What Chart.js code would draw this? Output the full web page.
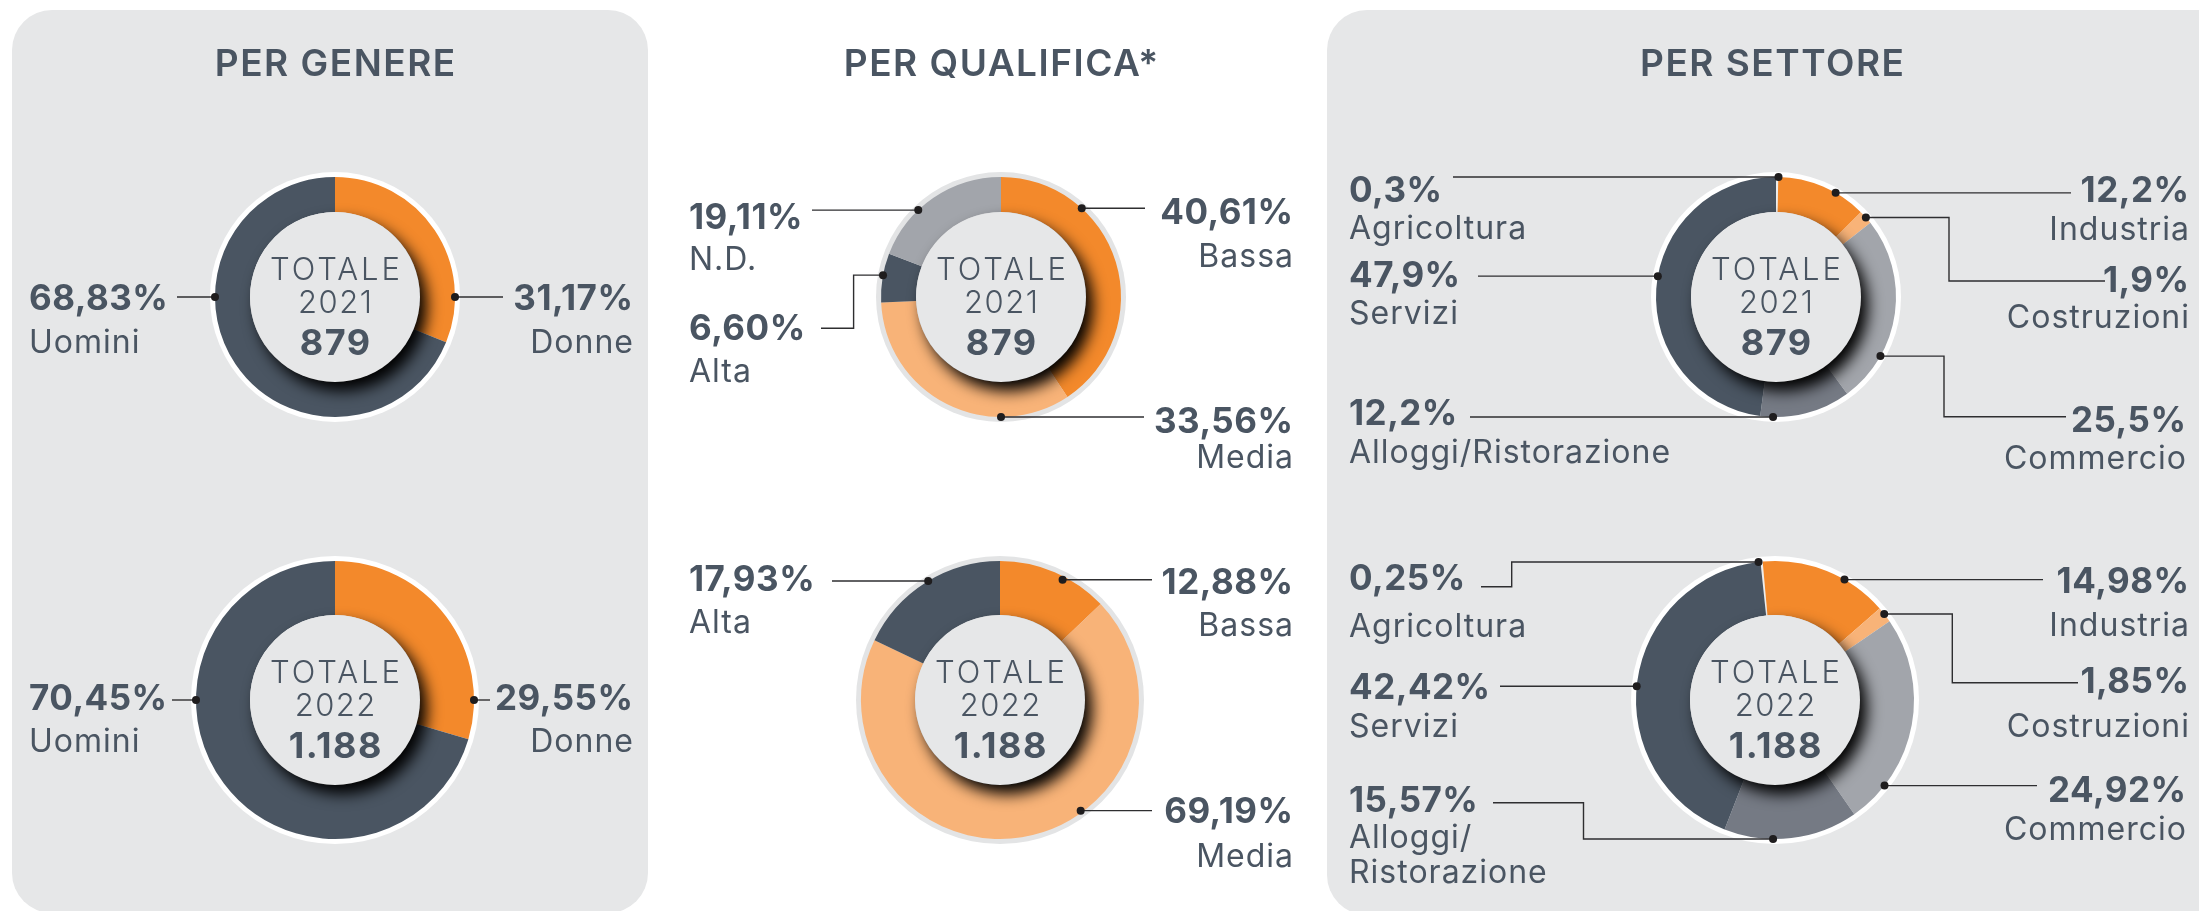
<!DOCTYPE html>
<html lang="it">
<head>
<meta charset="utf-8">
<title>Assunzioni per genere, qualifica e settore</title>
<script src="https://cdn.jsdelivr.net/npm/chart.js@4.4.1/dist/chart.umd.min.js"></script>
<style>
  html, body { margin: 0; padding: 0; background: #ffffff; }
  body { width: 2199px; height: 911px; position: relative; overflow: hidden; }
  .panel { position: absolute; background: #e6e7e8; border-radius: 40px; }
  canvas.layer { position: absolute; left: 0; top: 0; }
</style>
</head>
<body>
<div class="panel" style="left:12px; top:10px; width:636px; height:903px;"></div>
<div class="panel" style="left:1327px; top:10px; width:920px; height:905px;"></div>

<script>
// ---- data ----
const years = ['2021', '2022'];
const totals = [879, 1188];

const genereLabels = ['Donne', 'Uomini'];
const genere2021 = [31.17, 68.83];
const genere2022 = [29.55, 70.45];

const qualificaLabels2021 = ['Bassa', 'Media', 'Alta', 'N.D.'];
const qualifica2021 = [40.61, 33.56, 6.60, 19.11];
const qualificaLabels2022 = ['Bassa', 'Media', 'Alta'];
const qualifica2022 = [12.88, 69.19, 17.93];

const settoreLabels = ['Agricoltura', 'Industria', 'Costruzioni', 'Commercio', 'Alloggi/Ristorazione', 'Servizi'];
const settore2021 = [0.3, 12.2, 1.9, 25.5, 12.2, 47.9];
const settore2022 = [0.25, 14.98, 1.85, 24.92, 15.57, 42.42];

const panelTitles = ['PER GENERE', 'PER QUALIFICA*', 'PER SETTORE'];

// ---- styling ----
const W = 2199, H = 911;
const TEXT = '#4a5562';
const FONT = 'Inter, "Noto Sans", sans-serif';
const genereColors = ['#f3892b', '#4a5562'];
const qualificaColors = ['#f3892b', '#f8b378', '#4a5562', '#a2a5ab'];
const settoreColors = ['#eceded', '#f3892b', '#f8b378', '#a2a5ab', '#757a84', '#4a5562'];

const fmtPct = (v, d) => v.toFixed(d).replace('.', ',') + '%';
const fmtTotal = n => String(n).replace(/\B(?=(\d{3})+(?!\d))/g, '.');

// ---- ring frame, centre disc, title and callouts ----
const donutDecor = {
  id: 'donutDecor',
  beforeDatasetsDraw(chart) {
    const o = chart.options.plugins.donutDecor;
    const arc = chart.getDatasetMeta(0).data[0];
    const ctx = chart.ctx;
    ctx.save();
    ctx.beginPath();
    ctx.arc(arc.x, arc.y, arc.outerRadius + 5, 0, Math.PI * 2);
    ctx.fillStyle = o.ringColor;
    ctx.fill();
    ctx.restore();
  },
  afterDatasetsDraw(chart) {
    const o = chart.options.plugins.donutDecor;
    const meta = chart.getDatasetMeta(0);
    const arc0 = meta.data[0];
    const cx = arc0.x, cy = arc0.y, R = arc0.outerRadius, r = arc0.innerRadius;
    const ctx = chart.ctx;

    // inner disc with its drop shadow falling onto the ring
    ctx.save();
    ctx.beginPath();
    ctx.arc(cx, cy, R, 0, Math.PI * 2);
    ctx.clip();
    ctx.shadowColor = 'rgba(0,0,0,1)';
    ctx.shadowBlur = 15;
    ctx.shadowOffsetX = 7;
    ctx.shadowOffsetY = 9;
    ctx.beginPath();
    ctx.arc(cx, cy, r, 0, Math.PI * 2);
    ctx.fillStyle = '#e6e7e8';
    ctx.fill();
    ctx.restore();

    // centre text
    ctx.save();
    ctx.fillStyle = TEXT;
    ctx.textAlign = 'center';
    ctx.textBaseline = 'alphabetic';
    ctx.font = '300 31px ' + FONT;
    ctx.letterSpacing = '3px';
    ctx.fillText('TOTALE', cx + 1.5, cy - 17);
    ctx.letterSpacing = '1.5px';
    ctx.fillText(o.year, cx + 0.75, cy + 16);
    ctx.font = '700 36px ' + FONT;
    ctx.letterSpacing = '1.5px';
    ctx.fillText(fmtTotal(o.total), cx + 0.75, cy + 58);
    ctx.restore();

    // panel title
    if (o.title) {
      ctx.save();
      ctx.fillStyle = TEXT;
      ctx.textAlign = 'center';
      ctx.font = '600 37px ' + FONT;
      ctx.letterSpacing = '1.5px';
      ctx.fillText(o.title.text, o.title.x + 0.75, 76);
      ctx.restore();
    }

    // callouts
    const labels = chart.data.labels;
    const values = chart.data.datasets[0].data;
    o.callouts.forEach((c, i) => {
      if (!c) return;
      const a = (c.angle - 90) * Math.PI / 180;
      const dr = R * (c.rf || 1);
      const dx = cx + dr * Math.cos(a);
      const dy = cy + dr * Math.sin(a);

      ctx.save();
      ctx.strokeStyle = '#2e2e30';
      ctx.lineWidth = 1.4;
      ctx.beginPath();
      if (c.elbowX !== undefined) {
        ctx.moveTo(c.start[0], c.start[1]);
        ctx.lineTo(c.elbowX, c.start[1]);
        ctx.lineTo(c.elbowX, dy);
        ctx.lineTo(dx, dy);
      } else {
        ctx.moveTo(c.startX, dy);
        ctx.lineTo(dx, dy);
      }
      ctx.stroke();
      ctx.beginPath();
      ctx.arc(dx, dy, 4, 0, Math.PI * 2);
      ctx.fillStyle = '#1f1d1e';
      ctx.fill();

      const right = c.side === 'R';
      ctx.fillStyle = TEXT;
      ctx.textAlign = right ? 'right' : 'left';
      ctx.font = '700 35px ' + FONT;
      ctx.letterSpacing = '0.5px';
      ctx.fillText(fmtPct(values[i], o.decimals), c.x + (right ? 0.5 : 0), c.pctY);
      ctx.font = '400 32px ' + FONT;
      ctx.letterSpacing = '1px';
      const nx = c.x + (right ? 1 : 0);
      const name = labels[i];
      if (c.nameY.length > 1) {
        const k = name.indexOf('/') + 1;
        ctx.fillText(name.slice(0, k), nx, c.nameY[0]);
        ctx.fillText(name.slice(k), nx, c.nameY[1]);
      } else {
        ctx.fillText(name, nx, c.nameY[0]);
      }
      ctx.restore();
    });
  }
};

function makeDonut(cfg) {
  const canvas = document.createElement('canvas');
  canvas.className = 'layer';
  canvas.width = W;
  canvas.height = H;
  document.body.appendChild(canvas);
  return new Chart(canvas, {
    type: 'doughnut',
    data: {
      labels: cfg.labels,
      datasets: [{
        data: cfg.values,
        backgroundColor: cfg.colors,
        borderWidth: 0,
        hoverOffset: 0,
        offset: 0
      }]
    },
    options: {
      responsive: false,
      maintainAspectRatio: false,
      devicePixelRatio: 1,
      animation: false,
      events: [],
      rotation: cfg.rotation || 0,
      cutout: 85,
      layout: {
        padding: {
          left: cfg.cx - cfg.R,
          right: W - cfg.cx - cfg.R,
          top: cfg.cy - cfg.R,
          bottom: H - cfg.cy - cfg.R
        }
      },
      plugins: {
        legend: { display: false },
        tooltip: { enabled: false },
        donutDecor: {
          ringColor: cfg.ringColor,
          year: cfg.year,
          total: cfg.total,
          decimals: cfg.decimals,
          title: cfg.title,
          callouts: cfg.callouts
        }
      }
    },
    plugins: [donutDecor]
  });
}

// ---- PER GENERE ----
makeDonut({
  labels: genereLabels, values: genere2021, colors: genereColors,
  cx: 335, cy: 297, R: 120, ringColor: '#ffffff', year: years[0], total: totals[0], decimals: 2,
  title: { text: panelTitles[0], x: 335 },
  callouts: [
    { side: 'R', x: 633, pctY: 310, nameY: [353], angle: 90, startX: 503 },
    { side: 'L', x: 29, pctY: 310, nameY: [353], angle: 270, startX: 177 }
  ]
});
makeDonut({
  labels: genereLabels, values: genere2022, colors: genereColors,
  cx: 335, cy: 700, R: 139, ringColor: '#ffffff', year: years[1], total: totals[1], decimals: 2,
  callouts: [
    { side: 'R', x: 633, pctY: 710, nameY: [752], angle: 90, startX: 490 },
    { side: 'L', x: 29, pctY: 710, nameY: [752], angle: 270, startX: 172 }
  ]
});

// ---- PER QUALIFICA ----
makeDonut({
  labels: qualificaLabels2021, values: qualifica2021, colors: qualificaColors,
  cx: 1001, cy: 297, R: 120, ringColor: '#e3e4e5', year: years[0], total: totals[0], decimals: 2,
  title: { text: panelTitles[1], x: 1001 },
  callouts: [
    { side: 'R', x: 1293, pctY: 224, nameY: [267], angle: 42.3, startX: 1145 },
    { side: 'R', x: 1293, pctY: 433, nameY: [468], angle: 180, startX: 1144 },
    { side: 'L', x: 689, pctY: 340, nameY: [382], angle: 280.5, elbowX: 853.6, start: [821, 328.3] },
    { side: 'L', x: 689, pctY: 229, nameY: [270], angle: 316.4, startX: 812 }
  ]
});
makeDonut({
  labels: qualificaLabels2022, values: qualifica2022, colors: qualificaColors,
  cx: 1000, cy: 700, R: 139, ringColor: '#e3e4e5', year: years[1], total: totals[1], decimals: 2,
  callouts: [
    { side: 'R', x: 1293, pctY: 594, nameY: [636], angle: 27.5, rf: 0.975, startX: 1152 },
    { side: 'R', x: 1293, pctY: 823, nameY: [867], angle: 143.9, rf: 0.985, startX: 1152 },
    { side: 'L', x: 689, pctY: 591, nameY: [633], angle: 328.9, startX: 832 }
  ]
});

// ---- PER SETTORE ----
makeDonut({
  labels: settoreLabels, values: settore2021, colors: settoreColors,
  cx: 1776, cy: 297, R: 120, ringColor: '#ffffff', year: years[0], total: totals[0], decimals: 1,
  title: { text: panelTitles[2], x: 1772 },
  callouts: [
    { side: 'L', x: 1349, pctY: 202, nameY: [239], angle: 1.2, startX: 1453 },
    { side: 'R', x: 2189, pctY: 202, nameY: [240], angle: 29.8, startX: 2071 },
    { side: 'R', x: 2189, pctY: 292, nameY: [328], angle: 48.5, elbowX: 1949, start: [2105, 281] },
    { side: 'R', x: 2186, pctY: 432, nameY: [469], angle: 119.5, elbowX: 1944, start: [2066, 416.7] },
    { side: 'L', x: 1349, pctY: 425, nameY: [463], angle: 181.4, startX: 1470 },
    { side: 'L', x: 1349, pctY: 287, nameY: [324], angle: 280, startX: 1478 }
  ]
});
makeDonut({
  labels: settoreLabels, values: settore2022, colors: settoreColors, rotation: -6,
  cx: 1775, cy: 700, R: 139, ringColor: '#ffffff', year: years[1], total: totals[1], decimals: 2,
  callouts: [
    { side: 'L', x: 1349, pctY: 590, nameY: [637], angle: 353.2, elbowX: 1511.7, start: [1481, 586.7] },
    { side: 'R', x: 2189, pctY: 593, nameY: [636], angle: 30, startX: 2043 },
    { side: 'R', x: 2189, pctY: 693, nameY: [737], angle: 51.8, elbowX: 1952.3, start: [2078, 682.7] },
    { side: 'R', x: 2186, pctY: 802, nameY: [840], angle: 128, startX: 2037 },
    { side: 'L', x: 1349, pctY: 812, nameY: [848, 883], angle: 180.8, elbowX: 1583.5, start: [1493, 802.7] },
    { side: 'L', x: 1349, pctY: 699, nameY: [737], angle: 275.7, startX: 1500 }
  ]
});
</script>
</body>
</html>
